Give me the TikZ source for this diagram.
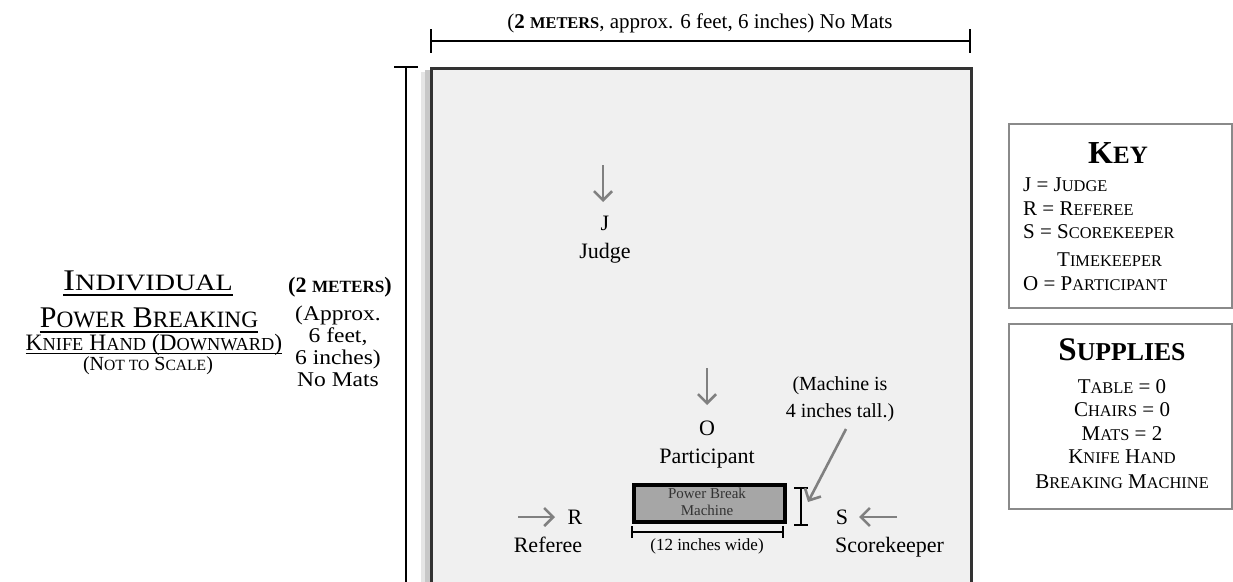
\documentclass[tikz,border=0pt]{standalone}
\usepackage{fontspec}
\setmainfont{Liberation Serif}
\usepackage{graphicx}
\usetikzlibrary{arrows.meta}
\newcommand\SC[1]{\scalebox{0.78}{#1}}
\newcommand\wide[1]{\scalebox{1.12}[1]{#1}}
\definecolor{fieldfill}{HTML}{F0F0F0}
\definecolor{arrowgray}{HTML}{808080}
\definecolor{boxgray}{HTML}{8A8A8A}
\definecolor{machinefill}{HTML}{A6A6A6}
\begin{document}
\begin{tikzpicture}[x=1pt,y=-1pt,
  txt/.style={inner sep=0pt, anchor=base, text=black},
  body/.style={txt, font=\fontsize{22}{24}\selectfont},
  side/.style={txt, font=\fontsize{21}{22}\selectfont},
  keytxt/.style={txt, font=\fontsize{21}{23}\selectfont},
  dimline/.style={line width=2.2pt, black},
  pointer/.style={line width=2.6pt, arrowgray, -{Straight Barb[length=9pt,width=18pt]}},
  uline/.style={line width=1.3pt, black},
  keybox/.style={draw=boxgray, line width=2pt, fill=white, inner sep=0pt, anchor=north west},
]
\useasboundingbox (0,0) rectangle (1233,581);
\fill[white] (0,0) rectangle (1233,581);

% field with soft shadow
\fill[black!10] (421,72) rectangle (430,620);
\fill[black!22] (425,70) rectangle (430,620);
\node[draw=black!80, line width=2.5pt, fill=fieldfill, minimum width=540pt, minimum height=560pt,
      inner sep=0pt, anchor=north west] (field) at (430,67) {};

% top dimension
\coordinate (topL) at (431,41);
\coordinate (topR) at (970,41);
\draw[dimline] (topL) -- (topR);
\draw[dimline] ([yshift=12pt]topL) -- ([yshift=-12pt]topL);
\draw[dimline] ([yshift=12pt]topR) -- ([yshift=-12pt]topR);
\node[txt, font=\fontsize{21}{23}\selectfont] (toptext) at (700,28)
  {(\textbf{2 \SC{METERS}}, approx. 6 feet, 6 inches) No Mats};

% vertical dimension
\coordinate (vT) at (406,67);
\coordinate (vB) at (406,620);
\draw[dimline] (vT) -- (vB);
\draw[dimline] ([xshift=-12pt]vT) -- ([xshift=12pt]vT);

% left title
\node[txt, font=\fontsize{30}{32}\selectfont] (t1) at (148,290) {\scalebox{1.2}[1]{I\SC{NDIVIDUAL}}};
\node[txt, font=\fontsize{30}{32}\selectfont] (t2) at (149,327) {P\SC{OWER} B\SC{REAKING}};
\node[txt, font=\fontsize{23.5}{25}\selectfont] (t3) at (154,350) {K\SC{NIFE} H\SC{AND} (D\SC{OWNWARD})};
\node[txt, font=\fontsize{20}{22}\selectfont] (t4) at (148,370) {(N\SC{OT TO} S\SC{CALE})};
\draw[uline] ([yshift=-5pt]t1.base west) -- ([yshift=-5pt]t1.base east);
\draw[uline] ([yshift=-5pt]t2.base west) -- ([yshift=-5pt]t2.base east);
\draw[uline] ([yshift=-3.5pt]t3.base west) -- ([yshift=-3.5pt]t3.base east);

% middle column
\node[body] (m1) at (340,292) {\textbf{(2 \SC{METERS})}};
\node[side] (m2) at (338,320) {\wide{(Approx.}};
\node[side] (m3) at (338,342) {\wide{6 feet,}};
\node[side] (m4) at (338,364) {\wide{6 inches)}};
\node[side] (m5) at (338,386) {\wide{No Mats}};

% judge
\coordinate (jA) at (603,165);
\coordinate (jB) at (603,202);
\draw[pointer] (jA) -- (jB);
\node[body] (J) at (605,230) {J};
\node[body] (judge) at (605,258) {Judge};

% participant
\coordinate (oA) at (707,368);
\coordinate (oB) at (707,405);
\draw[pointer] (oA) -- (oB);
\node[body] (O) at (707,435) {O};
\node[body] (part) at (707,463) {Participant};

% machine
\node[draw=black, line width=3.5pt, fill=machinefill, minimum width=151pt, minimum height=37pt,
      inner sep=0pt, anchor=north west] (machine) at (632,483) {};
\node[txt, font=\fontsize{15}{16}\selectfont, text=black!80] (mt1) at (707,498) {Power Break};
\node[txt, font=\fontsize{15}{16}\selectfont, text=black!80] (mt2) at (707,515) {Machine};

% width dimension
\coordinate (wL) at (632,532);
\coordinate (wR) at (783,532);
\draw[dimline] (wL) -- (wR);
\draw[dimline] ([yshift=6pt]wL) -- ([yshift=-6pt]wL);
\draw[dimline] ([yshift=6pt]wR) -- ([yshift=-6pt]wR);
\node[txt, font=\fontsize{17}{19}\selectfont] (wtext) at (707,550) {(12 inches wide)};

% height dimension
\coordinate (hT) at (801,488);
\coordinate (hB) at (801,525);
\draw[dimline] (hT) -- (hB);
\draw[dimline] ([xshift=-7pt]hT) -- ([xshift=7pt]hT);
\draw[dimline] ([xshift=-7pt]hB) -- ([xshift=7pt]hB);
\node[txt, font=\fontsize{20}{22}\selectfont] (ml1) at (840,390) {(Machine is};
\node[txt, font=\fontsize{20}{22}\selectfont] (ml2) at (840,417) {4 inches tall.)};
\coordinate (mA) at (846,429);
\coordinate (mB) at (808,502);
\draw[pointer] (mA) -- (mB);

% referee
\coordinate (rA) at (518,517);
\coordinate (rB) at (555,517);
\draw[pointer] (rA) -- (rB);
\node[body] (R) at (575,524) {R};
\node[body] (ref) at (548,552) {Referee};

% scorekeeper
\coordinate (sA) at (897,517);
\coordinate (sB) at (859,517);
\draw[pointer] (sA) -- (sB);
\node[body] (S) at (842,524) {S};
\node[body, anchor=base west] (score) at (835,552) {Scorekeeper};

% key box
\node[keybox, minimum width=223pt, minimum height=184pt] (keyb) at (1008,123) {};
\node[txt, font=\fontsize{32}{34}\selectfont\bfseries] (keyT) at (1118,163) {K\SC{EY}};
\node[keytxt, anchor=base west] (k1) at (1023,191) {J = J\SC{UDGE}};
\node[keytxt, anchor=base west] (k2) at (1023,215) {R = R\SC{EFEREE}};
\node[keytxt, anchor=base west] (k3) at (1023,238) {S = S\SC{COREKEEPER}};
\node[keytxt, anchor=base west] (k4) at (1057,266) {T\SC{IMEKEEPER}};
\node[keytxt, anchor=base west] (k5) at (1023,290) {O = P\SC{ARTICIPANT}};

% supplies box
\node[keybox, minimum width=223pt, minimum height=185pt] (supb) at (1008,323) {};
\node[txt, font=\fontsize{33}{35}\selectfont\bfseries] (supT) at (1122,360) {S\SC{UPPLIES}};
\node[keytxt] (s1) at (1122,393) {T\SC{ABLE} = 0};
\node[keytxt] (s2) at (1122,416) {C\SC{HAIRS} = 0};
\node[keytxt] (s3) at (1122,440) {M\SC{ATS} = 2};
\node[keytxt] (s4) at (1122,463) {K\SC{NIFE} H\SC{AND}};
\node[keytxt] (s5) at (1122,488) {B\SC{REAKING} M\SC{ACHINE}};
\end{tikzpicture}
\end{document}
